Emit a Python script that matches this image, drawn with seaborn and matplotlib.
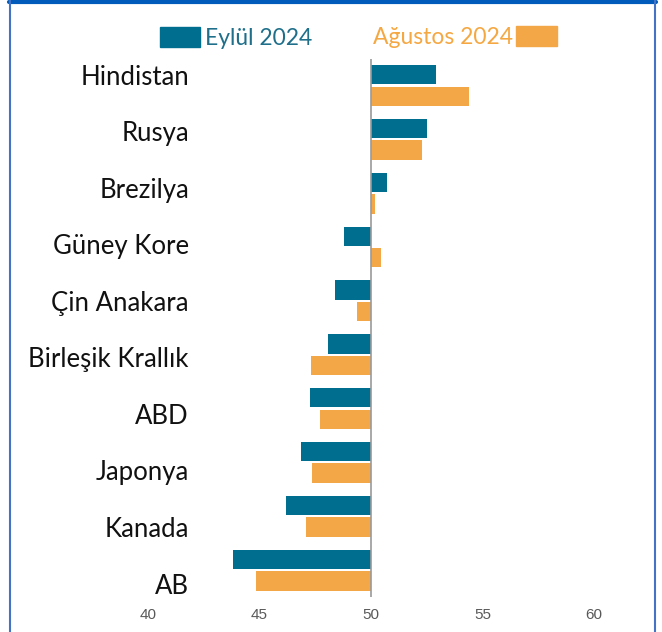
import numpy as np
import pandas as pd
import matplotlib.pyplot as plt
from matplotlib.lines import Line2D
from matplotlib.patches import Patch
from matplotlib.ticker import FixedLocator
import seaborn as sns

# --- Daten ---
ulkeler = ['Hindistan', 'Rusya', 'Brezilya', 'Güney Kore', 'Çin Anakara',
           'Birleşik Krallık', 'ABD', 'Japonya', 'Kanada', 'AB']
eylul_2024 = [52.9, 52.5, 50.7, 48.8, 48.4, 48.05, 47.25, 46.85, 46.2, 43.8]
agustos_2024 = [54.4, 52.3, 50.2, 50.45, 49.35, 47.3, 47.7, 47.35, 47.1, 44.85]
seriler = ['Eylül 2024', 'Ağustos 2024']
renkler = {'Eylül 2024': '#006e8f', 'Ağustos 2024': '#f4a747'}
yazi_renkleri = ['#1f6f8b', '#f5a742']
esik = 50
x_ticks = [40, 45, 50, 55, 60]

df = pd.DataFrame({
    'Ülke': ulkeler * 2,
    'Dönem': [seriler[0]] * len(ulkeler) + [seriler[1]] * len(ulkeler),
    'Değer': eylul_2024 + agustos_2024,
})
df['Fark'] = df['Değer'] - esik

sns.set_theme(style='white')
plt.rcParams['font.family'] = ['Lato', 'DejaVu Sans']

fig = plt.figure(figsize=(6.62, 6.32), dpi=100)
ax = fig.add_axes([148 / 662, 1 - 597 / 632, (594 - 148) / 662, (597 - 58.6) / 632])

# Balken ab der 50-Linie zeichnen
sns.barplot(data=df, x='Fark', y='Ülke', hue='Dönem', order=ulkeler,
            hue_order=seriler, palette=renkler, saturation=1, width=0.8,
            gap=0.1, orient='h', left=esik, linewidth=0, legend=False, ax=ax)

ax.set_xlim(40, 60)
ax.set_ylim(9.5, -0.5)
ax.axvline(esik, color='#9a9a9a', lw=1.2, zorder=5)

ax.xaxis.set_major_locator(FixedLocator(x_ticks))
ax.set_xticklabels([str(t) for t in x_ticks], family=['Liberation Sans'],
                   fontsize=11, color='#595959')
ax.tick_params(axis='x', length=0, pad=8)

# Beschriftungen leicht versetzt wie im Original
ax.set_yticks(np.linspace(-0.2, 9.25, len(ulkeler)))
ax.set_yticklabels(ulkeler, fontsize=18.5, color='#111111')
ax.tick_params(axis='y', length=0, pad=-29.5)

ax.set_xlabel('')
ax.set_ylabel('')
for s in ax.spines.values():
    s.set_visible(False)
ax.grid(False)

# Legende: zwei Teile, zweiter mit Symbol rechts
h1 = [Patch(color=renkler[seriler[0]])]
h2 = [Patch(color=renkler[seriler[1]])]
leg1 = fig.legend(h1, [seriler[0]], loc='center left',
                  bbox_to_anchor=(160 / 662, 1 - 38 / 632), frameon=False,
                  fontsize=16.5, handlelength=1.75, handleheight=0.95,
                  handletextpad=0.2, borderpad=0, borderaxespad=0,
                  labelcolor=yazi_renkleri[0])
leg2 = fig.legend(h2, [seriler[1]], loc='center right',
                  bbox_to_anchor=(557 / 662, 1 - 37 / 632), frameon=False,
                  fontsize=16.5, handlelength=1.8, handleheight=0.95,
                  handletextpad=0.1, borderpad=0, borderaxespad=0,
                  markerfirst=False, labelcolor=yazi_renkleri[1])

# Rahmen
fig.add_artist(Line2D([9 / 662, 656 / 662], [1 - 2 / 632, 1 - 2 / 632],
                      transform=fig.transFigure, color='#005bbb', lw=3))
fig.add_artist(Line2D([10 / 662, 10 / 662], [0, 1], transform=fig.transFigure,
                      color='#4472c4', lw=1.5))
fig.add_artist(Line2D([655 / 662, 655 / 662], [0, 1], transform=fig.transFigure,
                      color='#4472c4', lw=1.5))

fig.savefig('out.png', dpi=100)
